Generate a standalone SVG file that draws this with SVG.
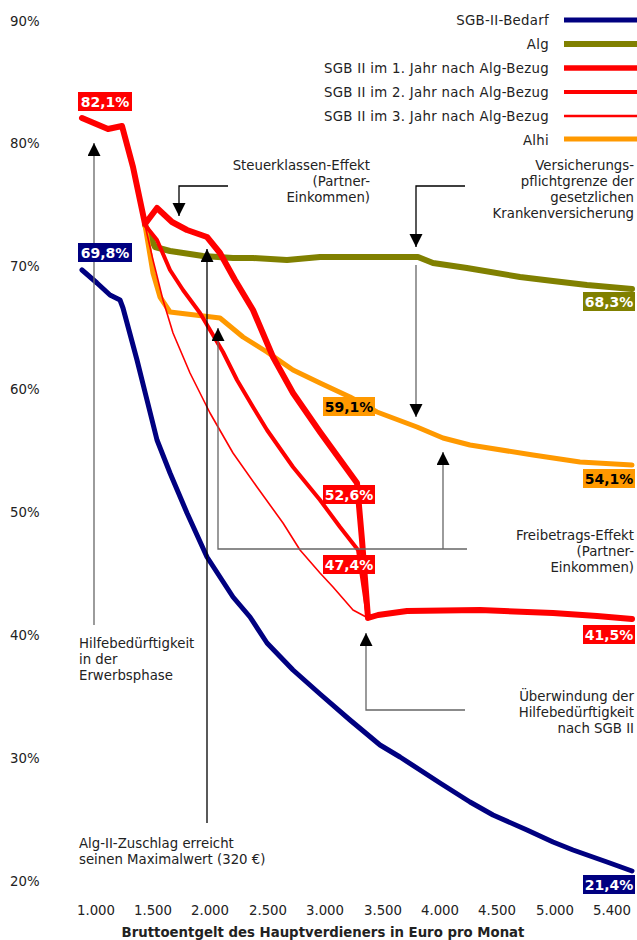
<svg xmlns="http://www.w3.org/2000/svg" width="637" height="940" viewBox="0 0 637 940">
<style>
text{font-family:"DejaVu Sans","Liberation Sans",sans-serif;font-size:13.3px;fill:#222}
.ax{text-anchor:start}
.xt{text-anchor:middle}
.r{text-anchor:end}
.lg{letter-spacing:0.3px}
.b{font-weight:bold}
.v{font-weight:bold;font-size:14px;text-anchor:middle;fill:#fff}
.vk{font-weight:bold;font-size:14px;text-anchor:middle;fill:#000}
.c{fill:none;stroke-linejoin:round;stroke-linecap:round}
.ann{fill:none;stroke:#666;stroke-width:1.3}
.annb{fill:none;stroke:#000;stroke-width:1.3}
</style>
<defs>
<marker id="ah" markerUnits="userSpaceOnUse" markerWidth="14" markerHeight="14" refX="13" refY="6.5" orient="auto">
<path d="M0,0 L13,6.5 L0,13 z" fill="#000"/>
</marker>
</defs>
<rect width="637" height="940" fill="#fff"/>
<g id="y-axis">
<text class="ax" x="10" y="26">90%</text>
<text class="ax" x="10" y="148">80%</text>
<text class="ax" x="10" y="271">70%</text>
<text class="ax" x="10" y="394">60%</text>
<text class="ax" x="10" y="517">50%</text>
<text class="ax" x="10" y="640">40%</text>
<text class="ax" x="10" y="763">30%</text>
<text class="ax" x="10" y="886">20%</text>
</g>
<g id="x-axis">
<text class="xt" x="96" y="915">1.000</text>
<text class="xt" x="153" y="915">1.500</text>
<text class="xt" x="210" y="915">2.000</text>
<text class="xt" x="268" y="915">2.500</text>
<text class="xt" x="325" y="915">3.000</text>
<text class="xt" x="383" y="915">3.500</text>
<text class="xt" x="440" y="915">4.000</text>
<text class="xt" x="497" y="915">4.500</text>
<text class="xt" x="555" y="915">5.000</text>
<text class="xt" x="612" y="915">5.400</text>
<text class="xt b" x="323" y="937" fill="#000">Bruttoentgelt des Hauptverdieners in Euro pro Monat</text>
</g>
<g id="legend">
<text class="r lg" x="549" y="25">SGB-II-Bedarf</text>
<line x1="564" y1="20" x2="637" y2="20" stroke="#000080" stroke-width="5"/>
<text class="r lg" x="549" y="49">Alg</text>
<line x1="564" y1="44" x2="637" y2="44" stroke="#808000" stroke-width="6"/>
<text class="r lg" x="549" y="73">SGB II im 1. Jahr nach Alg-Bezug</text>
<line x1="564" y1="68" x2="637" y2="68" stroke="#ff0000" stroke-width="5.5"/>
<text class="r lg" x="549" y="97">SGB II im 2. Jahr nach Alg-Bezug</text>
<line x1="564" y1="92" x2="637" y2="92" stroke="#ff0000" stroke-width="4"/>
<text class="r lg" x="549" y="121">SGB II im 3. Jahr nach Alg-Bezug</text>
<line x1="564" y1="116" x2="637" y2="116" stroke="#ff0000" stroke-width="2.5"/>
<text class="r lg" x="549" y="145">Alhi</text>
<line x1="564" y1="139" x2="637" y2="139" stroke="#ff9900" stroke-width="5"/>
</g>
<g id="curves">
<path id="sgb2-bedarf" class="c" stroke="#000080" stroke-width="5" d="M82,270 L97,283 L110,295 L120,300 L123,308 L137,360 L147,400 L157,440 L170,473 L187,513 L207,557 L220,577 L233,597 L250,617 L267,643 L293,670 L320,694 L350,720 L380,745 L400,757 L440,783 L470,802 L493,815 L527,830 L553,842 L573,850 L607,862 L632,871"/>
<path id="alg" class="c" stroke="#808000" stroke-width="6" d="M145,225 L155,247 L170,251 L203,256 L233,258 L253,258 L287,260 L320,257 L418,257 L433,263 L467,268 L520,277 L553,281 L587,285 L632,289"/>
<path id="alhi" class="c" stroke="#ff9900" stroke-width="5" d="M145,225 L153,273 L160,297 L170,312 L220,318 L243,337 L267,352 L293,370 L320,383 L350,397 L377,412 L417,427 L443,438 L470,445 L533,455 L580,462 L632,465"/>
<path id="sgb2-j3" class="c" stroke="#ff0000" stroke-width="1.6" d="M145,225 L153,260 L163,300 L173,333 L190,373 L210,413 L233,453 L257,487 L283,523 L300,550 L320,573 L333,587 L353,610 L368,618"/>
<path id="sgb2-j2" class="c" stroke="#ff0000" stroke-width="4" d="M145,225 L157,240 L170,270 L183,290 L200,313 L223,352 L237,380 L253,407 L267,430 L293,467 L320,500 L340,527 L358,550 L368,618"/>
<path id="sgb2-j1" class="c" stroke="#ff0000" stroke-width="6" d="M82,118 L108,129 L122,126 L133,167 L145,224 L157,208 L172,222 L187,230 L207,237 L220,253 L235,280 L253,310 L273,357 L293,393 L320,432 L357,483 L362,540 L368,618 L378,615 L407,611 L480,610 L553,613 L597,616 L632,619"/>
</g>
<g id="connectors">
<path class="ann" d="M94,625 L94,143" marker-end="url(#ah)"/>
<path class="annb" d="M207,823 L207,249" marker-end="url(#ah)"/>
<path class="annb" d="M228,186 L179,186 L179,216" marker-end="url(#ah)"/>
<path class="annb" d="M465,186 L416,186 L416,247" marker-end="url(#ah)"/>
<path class="ann" d="M416,265 L416,417" marker-end="url(#ah)"/>
<path class="ann" d="M467,549 L218,549 L218,328" marker-end="url(#ah)"/>
<path class="ann" d="M443,549 L443,452" marker-end="url(#ah)"/>
<path class="ann" d="M465,710 L366,710 L366,633" marker-end="url(#ah)"/>
</g>
<g id="note-hilfe">
<text x="79" y="648">Hilfebedürftigkeit</text>
<text x="79" y="664">in der</text>
<text x="79" y="680">Erwerbsphase</text>
</g>
<g id="note-zuschlag">
<text x="79" y="848">Alg-II-Zuschlag erreicht</text>
<text x="79" y="864">seinen Maximalwert (320 €)</text>
</g>
<g id="note-steuer">
<text class="r" x="370" y="170">Steuerklassen-Effekt</text>
<text class="r" x="370" y="186">(Partner-</text>
<text class="r" x="370" y="202">Einkommen)</text>
</g>
<g id="note-versicherung">
<text class="r" x="634" y="170">Versicherungs-</text>
<text class="r" x="634" y="186">pflichtgrenze der</text>
<text class="r" x="634" y="202">gesetzlichen</text>
<text class="r" x="634" y="218">Krankenversicherung</text>
</g>
<g id="note-freibetrag">
<text class="r" x="634" y="540">Freibetrags-Effekt</text>
<text class="r" x="634" y="556">(Partner-</text>
<text class="r" x="634" y="572">Einkommen)</text>
</g>
<g id="note-ueberwindung">
<text class="r" x="634" y="701">Überwindung der</text>
<text class="r" x="634" y="717">Hilfebedürftigkeit</text>
<text class="r" x="634" y="733">nach SGB II</text>
</g>
<g id="value-labels">
<rect x="78" y="92" width="54" height="19" fill="#ff0000"/><text class="v" x="105" y="107">82,1%</text>
<rect x="78" y="243" width="54" height="19" fill="#000080"/><text class="v" x="105" y="258">69,8%</text>
<rect x="583" y="292" width="52" height="19" fill="#808000"/><text class="v" x="609" y="307">68,3%</text>
<rect x="323" y="397" width="52" height="19" fill="#ff9900"/><text class="vk" x="349" y="412">59,1%</text>
<rect x="583" y="469" width="52" height="19" fill="#ff9900"/><text class="vk" x="609" y="484">54,1%</text>
<rect x="323" y="485" width="52" height="19" fill="#ff0000"/><text class="v" x="349" y="500">52,6%</text>
<rect x="323" y="555" width="52" height="19" fill="#ff0000"/><text class="v" x="349" y="570">47,4%</text>
<rect x="583" y="625" width="52" height="19" fill="#ff0000"/><text class="v" x="609" y="640">41,5%</text>
<rect x="583" y="875" width="52" height="19" fill="#000080"/><text class="v" x="609" y="890">21,4%</text>
</g>
</svg>
